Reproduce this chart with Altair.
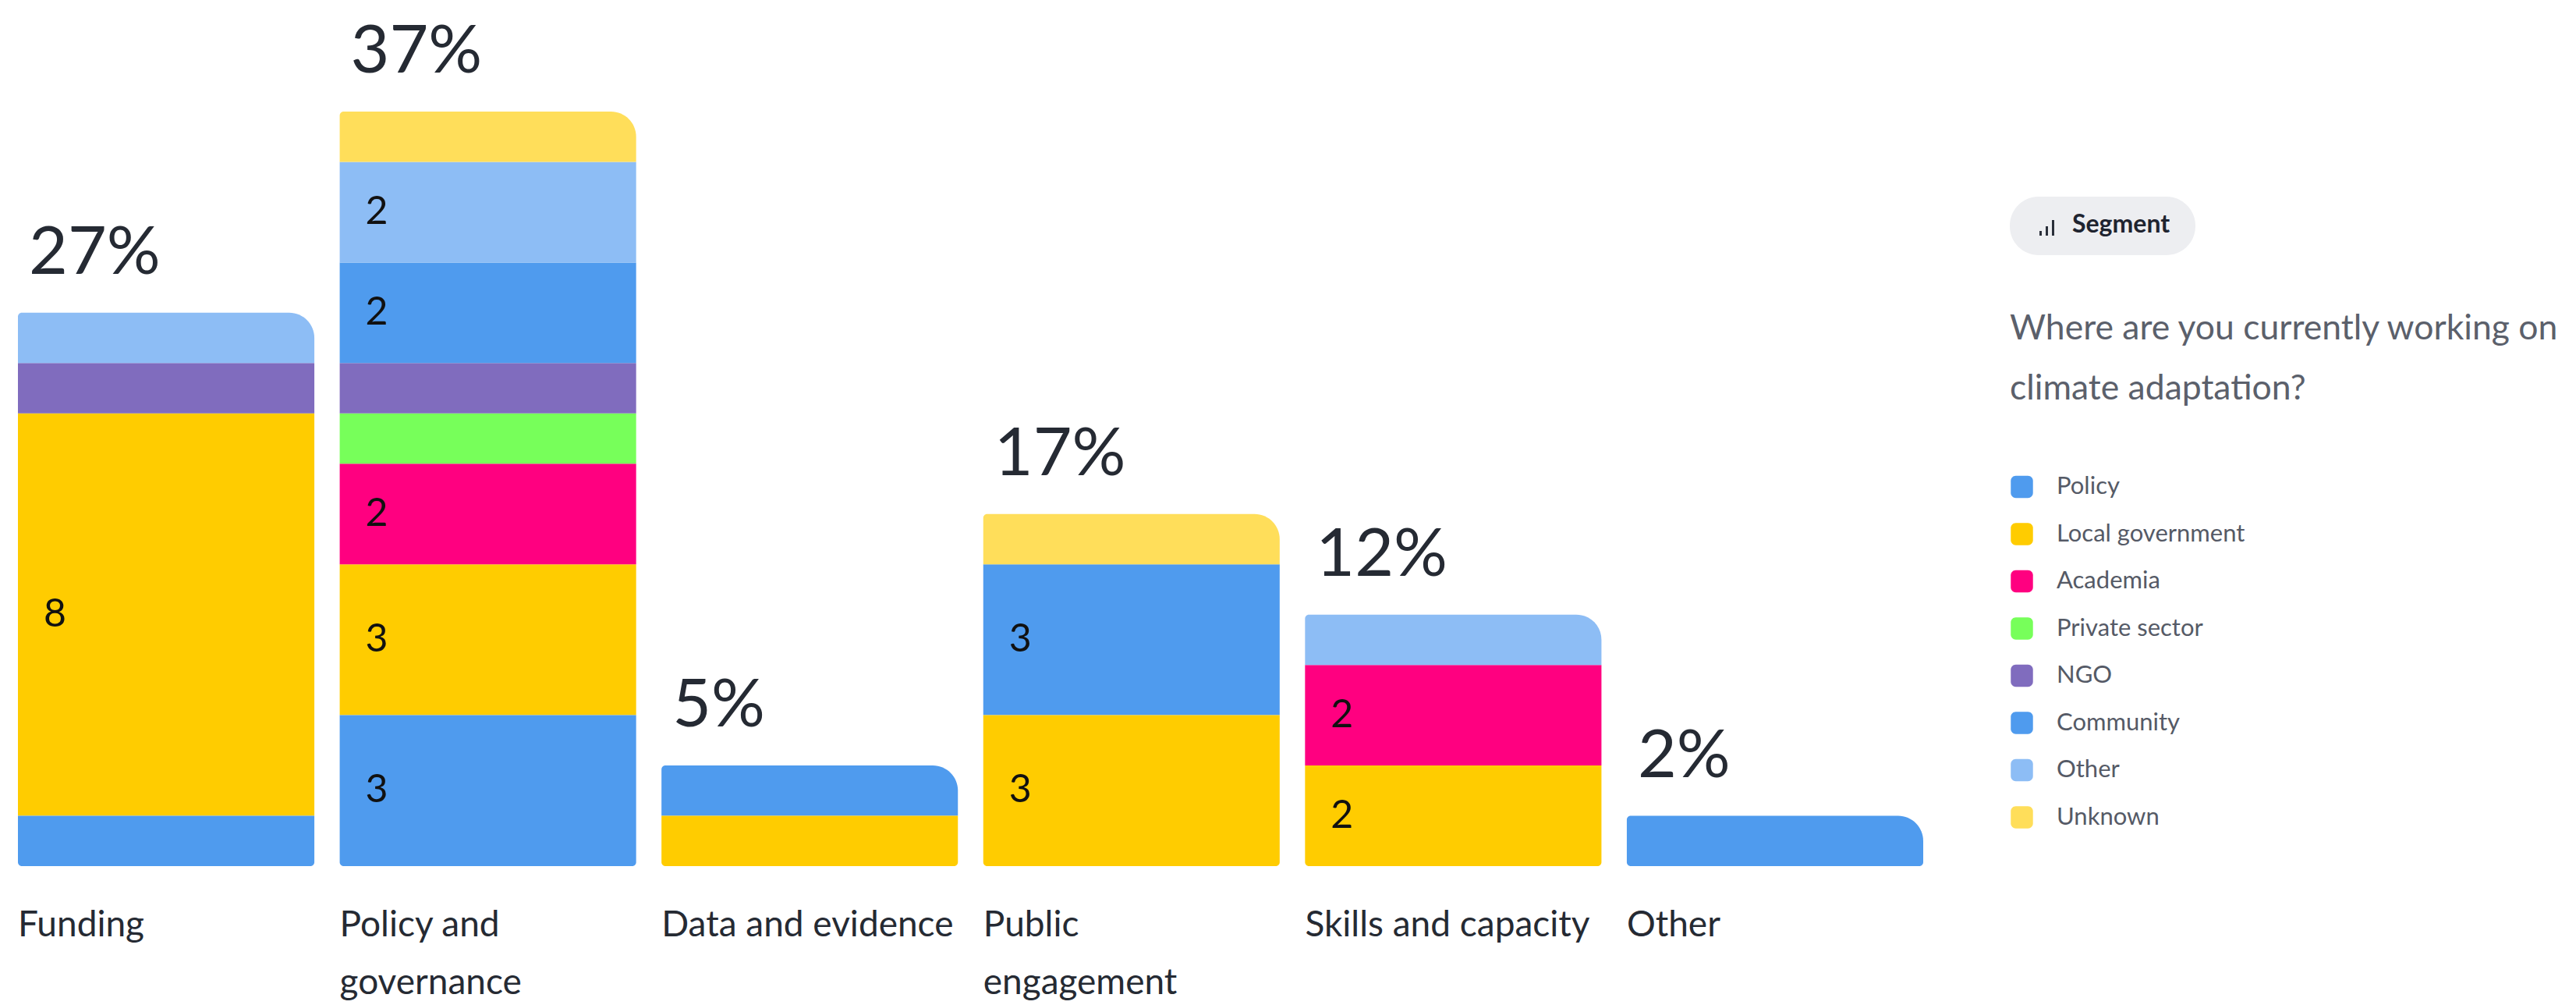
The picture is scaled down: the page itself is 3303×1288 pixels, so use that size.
import altair as alt
import pandas as pd

# ---- data ----
categories = ["Funding", "Policy and governance", "Data and evidence",
              "Public engagement", "Skills and capacity", "Other"]
category_lines = [["Funding"], ["Policy and", "governance"], ["Data and evidence"],
                  ["Public", "engagement"], ["Skills and capacity"], ["Other"]]
segments = ["Policy", "Local government", "Academia", "Private sector",
            "NGO", "Community", "Other", "Unknown"]
seg_colors = ["#4F9BEE", "#FFCC00", "#FF0080", "#77FF5A",
              "#806CBE", "#4F9BEE", "#8DBDF5", "#FFDE5A"]

policy = [1, 3, 0, 0, 0, 0]
local_government = [8, 3, 1, 3, 2, 0]
academia = [0, 2, 0, 0, 2, 0]
private_sector = [0, 1, 0, 0, 0, 0]
ngo = [1, 1, 0, 0, 0, 0]
community = [0, 2, 1, 3, 0, 1]
other = [1, 2, 0, 0, 1, 0]
unknown = [0, 1, 0, 1, 0, 0]

legend_title = ["Where are you currently working on", "climate adaptation?"]
pill_text = "Segment"

series = [policy, local_government, academia, private_sector, ngo,
          community, other, unknown]
rows = []
for i, (seg, vals) in enumerate(zip(segments, series)):
    for cat, v in zip(categories, vals):
        if v > 0:
            rows.append({"category": cat, "segment": seg, "count": v, "order": i})
df = pd.DataFrame(rows)

FONT = "Lato"
DARK = "#252A33"

label_map = "{" + ",".join(
    "'%s': [%s]" % (c, ",".join("'%s'" % l for l in lines))
    for c, lines in zip(categories, category_lines)) + "}"

xscale = alt.Scale(domain=categories, paddingInner=0.0788, paddingOuter=0)
yscale = alt.Scale(domain=[0, 15], nice=False)

rounded_square = ("M-0.55,-1H0.55A0.45,0.45,0,0,1,1,-0.55V0.55A0.45,0.45,0,0,1,0.55,1"
                  "H-0.55A0.45,0.45,0,0,1,-1,0.55V-0.55A0.45,0.45,0,0,1,-0.55,-1Z")

color = alt.Color(
    "segment:N",
    scale=alt.Scale(domain=segments, range=seg_colors),
    legend=alt.Legend(
        orient="none", legendX=2554, legendY=257,
        title=legend_title, titleFont=FONT, titleFontSize=44.5,
        titleFontWeight="normal", titleColor="#5B606B",
        titleLineHeight=77, titlePadding=87, titleLimit=900,
        labelFont=FONT, labelFontSize=31, labelColor="#555A66",
        labelOffset=29, labelLimit=500,
        symbolType=rounded_square, symbolSize=810, symbolStrokeWidth=0,
        rowPadding=28.5, padding=0, offset=0,
    ),
)

xenc = alt.X("category:N", sort=categories, scale=xscale,
             axis=alt.Axis(title=None, domain=False, ticks=False,
                           labelAlign="left", labelOffset=-190,
                           labelBaseline="top", labelPadding=53,
                           labelFont=FONT, labelFontSize=46, labelColor=DARK,
                           labelLineHeight=74, labelAngle=0, labelLimit=600,
                           labelExpr="%s[datum.label]" % label_map))

base = alt.Chart(df).transform_stack(
    stack="count", groupby=["category"], sort=[alt.SortField("order")],
    as_=["y0", "y1"]
).transform_joinaggregate(
    top="max(y1)", groupby=["category"]
).transform_calculate(
    is_top="datum.y1 == datum.top", is_bottom="datum.y0 == 0"
)

enc = dict(x=xenc,
           y=alt.Y("y0:Q", scale=yscale, axis=None),
           y2="y1:Q", color=color)

mid = base.transform_filter("!datum.is_top && !datum.is_bottom").mark_bar().encode(**enc)
top = base.transform_filter("datum.is_top && !datum.is_bottom").mark_bar(
    cornerRadiusTopLeft=5, cornerRadiusTopRight=40).encode(**enc)
bottom = base.transform_filter("!datum.is_top && datum.is_bottom").mark_bar(
    cornerRadiusBottomLeft=5, cornerRadiusBottomRight=5).encode(**enc)
both = base.transform_filter("datum.is_top && datum.is_bottom").mark_bar(
    cornerRadiusTopLeft=5, cornerRadiusTopRight=40,
    cornerRadiusBottomLeft=5, cornerRadiusBottomRight=5).encode(**enc)

seg_labels = base.transform_filter("datum.count >= 2").transform_calculate(
    mid="(datum.y0 + datum.y1) / 2"
).mark_text(align="left", baseline="middle", dx=33, font=FONT,
            fontSize=50, color="#111111").encode(
    x=alt.X("category:N", sort=categories, scale=xscale, bandPosition=0),
    y=alt.Y("mid:Q", scale=yscale),
    text="count:Q",
)

pct_labels = alt.Chart(df).transform_aggregate(
    total="sum(count)", groupby=["category"]
).transform_joinaggregate(grand="sum(total)").transform_calculate(
    pct="datum.total / datum.grand"
).mark_text(align="left", baseline="alphabetic", dx=14, dy=-50, font=FONT,
            fontSize=86, color=DARK).encode(
    x=alt.X("category:N", sort=categories, scale=xscale, bandPosition=0),
    y=alt.Y("total:Q", scale=yscale),
    text=alt.Text("pct:Q", format=".0%"),
)

one = alt.Data(values=[{}])
pill = alt.Chart(one).mark_rect(color="#EDEEF1", cornerRadius=37).encode(
    x=alt.value(2554), x2=alt.value(2792), y=alt.value(109), y2=alt.value(184))
pill_label = alt.Chart(one).mark_text(
    align="left", baseline="alphabetic", font=FONT, fontSize=32,
    fontWeight="bold", color="#1F2430").encode(
    x=alt.value(2634), y=alt.value(155), text=alt.value(pill_text))
icon1 = alt.Chart(one).mark_rect(color="#2A2F3A").encode(
    x=alt.value(2592), x2=alt.value(2595), y=alt.value(153), y2=alt.value(159))
icon2 = alt.Chart(one).mark_rect(color="#2A2F3A").encode(
    x=alt.value(2600), x2=alt.value(2603), y=alt.value(147), y2=alt.value(159))
icon3 = alt.Chart(one).mark_rect(color="#2A2F3A").encode(
    x=alt.value(2608), x2=alt.value(2611), y=alt.value(139), y2=alt.value(159))

chart = alt.layer(
    mid, top, bottom, both, seg_labels, pct_labels,
    pill, pill_label, icon1, icon2, icon3
).properties(
    width=2443, height=967,
    padding={"left": 15, "top": 135, "right": 829, "bottom": 176},
    autosize=alt.AutoSizeParams(type="none"),
    background="white",
).configure_view(stroke=None)

chart.save("out.html", embed_options={"renderer": "svg", "actions": False})
